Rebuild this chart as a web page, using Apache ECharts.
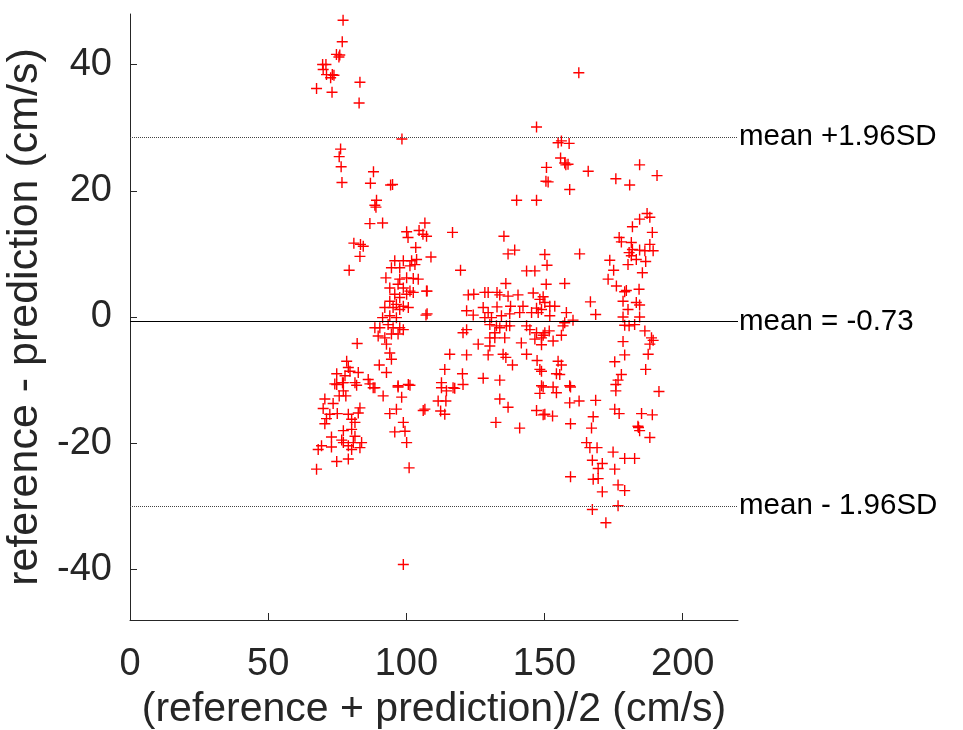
<!DOCTYPE html>
<html>
<head>
<meta charset="utf-8">
<script src="https://cdn.jsdelivr.net/npm/echarts@6/dist/echarts.min.js"></script>
<style>
html, body { margin: 0; padding: 0; background: #fff; }
#main { width: 963px; height: 730px; }
</style>
</head>
<body>
<div id="main"></div>
<script>
// Bland-Altman: [mean of the two, difference]
var lowGroup = [
	[77.1,47.0],[76.8,43.6],[74.7,41.6],[75.9,41.5],[75.6,41.2],[69.7,40.0],[70.9,40.0],[69.9,39.2],
	[71.1,38.4],[73.2,38.4],[73.8,38.3],[72.6,37.9],[83.2,37.2],[67.5,36.2],[73.1,35.6],[82.9,33.9],
	[98.4,28.2],[76.2,26.6],[75.7,25.4],[76.4,23.8],[88.1,23.0],[76.7,21.3],[87.0,21.2],[94.3,20.9],
	[95.0,21.0],[89.2,18.5],[88.6,17.7],[89.0,17.4],[86.8,14.8],[91.4,14.9],[81.0,11.7],[83.4,11.5],
	[84.4,11.2],[83.2,9.6],[79.3,7.4],[82.2,-4.2],
	[78.4,-7.0],[79.0,-8.0],[79.6,-8.6],[74.8,-9.0],[77.8,-9.3],[82.6,-8.8],[90.2,-7.6],[92.8,-8.8],
	[74.1,-10.6],[77.2,-10.4],[81.4,-10.4],[86.2,-9.9],[86.8,-10.6],[88.6,-11.2],[97.0,-10.9],[100.7,-10.7],
	[74.8,-10.7],[76.9,-10.4],[82.0,-10.8],[88.0,-11.2],[97.0,-11.1],[101.3,-10.8],[91.6,-12.5],[98.3,-12.7],
	[77.2,-11.7],[78.1,-12.5],[75.7,-12.5],[70.5,-13.0],[73.5,-13.7],[69.9,-14.5],[83.2,-14.4],[82.6,-15.2],
	[75.0,-15.3],[72.3,-15.4],[79.0,-15.4],[80.2,-16.2],[71.1,-16.1],[70.5,-16.9],[81.4,-16.7],[94.0,-15.3],
	[96.4,-14.6],[106.1,-14.8],[98.9,-16.7],[77.2,-18.0],[80.2,-17.8],[95.8,-18.2],[99.5,-18.1],[72.9,-19.0],
	[76.6,-19.5],[81.4,-18.9],[80.8,-19.9],[83.8,-19.9],[100.1,-19.9],[69.3,-20.4],[68.1,-21.0],[72.9,-20.6],
	[79.0,-20.4],[77.2,-19.9],[80.2,-21.0],[83.2,-20.7],[74.8,-22.9],[79.0,-22.5],[67.5,-24.1],[101.0,-23.9],
	[98.9,-39.2]
];

var clusterGroup = [
	[106.7,14.9],[100.1,13.5],[100.6,12.6],[104.6,13.7],[106.0,13.1],[107.3,12.8],[103.4,11.0],
	[95.8,8.9],[98.9,8.9],[101.9,8.9],[103.7,9.1],[94.6,7.8],[97.6,7.8],[101.3,8.1],[103.1,8.3],
	[92.6,6.2],[97.6,6.0],[100.1,6.2],[102.5,6.1],[104.3,6.0],[94.0,4.6],[97.0,5.2],[98.9,4.6],
	[101.3,4.1],[95.8,3.6],[97.6,3.1],[100.1,3.6],[102.5,3.9],[94.0,2.5],[96.4,2.0],[98.9,1.7],
	[92.2,1.5],[95.2,1.5],[97.6,1.2],[100.7,1.5],[91.4,-0.1],[94.0,0.2],[96.4,-0.1],[90.4,-1.7],
	[93.4,-1.2],[95.2,-1.7],[97.6,-1.7],[98.9,-2.0],[88.6,-1.7],[89.8,-3.0],[92.2,-3.3],[94.6,-2.7],
	[97.0,-2.7],[92.8,-4.3],[94.0,-5.7],[94.6,-6.7],[107.3,4.1],[107.1,0.3]
];

var midGroup = [
	[147.1,30.1],[150.7,23.7],[150.5,21.5],[139.9,18.5],[147.1,18.5],[162.4,38.7],[154.9,27.6],[156.1,27.9],
	[158.9,27.5],[155.8,25.2],[157.3,24.4],[158.5,24.2],[157.7,24.1],[151.3,21.4],[165.8,23.1],[159.1,20.2],
	[116.7,13.4],[135.3,12.8],[136.8,10.0],[139.2,10.6],[150.1,9.9],[108.9,9.5],[119.6,7.4],[143.5,7.3],
	[146.5,7.3],[136.0,5.3],[150.6,5.2],[107.5,4.1],[122.4,3.5],[124.4,3.6],[128.4,3.9],[129.6,3.9],
	[132.8,3.9],[133.8,3.5],[136.8,3.3],[140.4,3.5],[145.9,3.8],[148.3,2.8],[150.1,2.3],[151.9,1.7],
	[127.8,1.5],[132.8,1.6],[137.7,1.7],[142.2,1.7],[147.1,1.4],[121.8,1.0],[124.2,0.3],[129.6,0.7],
	[128.4,-0.1],[130.8,-0.1],[134.4,0.2],[137.4,0.5],[141.0,0.7],[145.3,0.7],[147.7,0.7],[107.5,0.5],
	[121.8,-2.0],[120.5,-2.5],[130.2,-1.2],[132.6,-1.4],[133.8,-1.7],[132.0,-2.5],[136.2,-1.4],[137.4,-1.4],
	[143.5,-1.4],[144.7,-2.0],[147.1,-2.5],[150.1,-2.5],[130.2,-3.3],[132.0,-3.3],[135.6,-3.3],[126.0,-4.3],
	[130.2,-4.6],[141.6,-4.1],[146.5,-3.5],[148.9,-3.3],[115.7,-5.9],[121.8,-6.0],[129.6,-6.0],[135.0,-5.9],
	[136.0,-6.4],[143.5,-5.9],[147.3,-6.9],[138.4,-7.6],[148.3,-8.3],[113.9,-8.3],[120.3,-9.0],[127.8,-9.7],
	[133.8,-10.0],[112.7,-10.4],[116.9,-11.2],[120.5,-10.7],[148.9,-10.9],[112.7,-11.2],[114.5,-11.7],[117.5,-11.3],
	[106.7,-14.6],[111.5,-13.3],[114.3,-13.3],[112.4,-14.9],[113.9,-15.4],[133.8,-13.0],[136.8,-14.3],[132.4,-16.7],
	[141.0,-17.6],[148.3,-12.1],[147.1,-14.8],[150.1,-15.4]
];

var highGroup = [
	[175.8,21.9],[180.8,20.9],[184.4,24.1],[190.7,22.4],
	[187.1,16.4],[184.4,15.5],[188.1,15.8],[181.8,14.3],[189.0,13.4],[177.0,12.6],[177.8,11.9],[181.4,11.8],
	[181.8,10.7],[180.6,10.2],[181.4,9.7],[184.4,10.6],[186.3,10.5],[188.1,11.5],[189.3,10.5],[183.2,9.1],
	[186.6,8.8],[180.2,8.3],[173.6,9.0],[175.0,7.4],[185.4,7.0],[173.0,6.0],[176.0,4.9],[179.6,4.2],
	[179.0,4.0],[184.2,4.4],[178.4,2.5],[183.2,2.3],[184.4,1.9],[180.2,1.2],[178.4,0.0],[184.4,0.0],
	[179.0,-1.3],[180.6,-1.4],[182.6,-1.2],[186.3,-2.2],[188.7,-3.3],[189.3,-3.7],[188.1,-4.3],[178.4,-3.9],
	[179.0,-6.0],[187.5,-5.9],[175.4,-7.1],[186.6,-8.3],[177.8,-9.1],[176.6,-10.0],[175.8,-10.7],
	[150.9,8.2],[157.3,5.3],[149.5,3.2],[153.7,1.7],[148.9,1.2],[151.9,0.2],[157.9,0.7],[157.3,-0.9],
	[156.7,-1.4],[160.3,-0.5],[162.7,10.0],[166.6,2.4],[168.5,0.4],[151.7,-2.2],[149.5,-2.9],[153.1,-3.8],
	[156.1,-2.9],[148.9,-4.4],[154.9,-7.0],[156.1,-7.6],[154.3,-9.0],[155.5,-9.1],[149.5,-11.1],[153.1,-11.1],
	[159.1,-10.9],[148.9,-8.6],[154.3,-12.0],[159.4,-11.1],[159.1,-13.6],[162.5,-13.3],[168.5,-13.2],[175.8,-11.7],
	[191.4,-11.8],[149.5,-15.5],[152.9,-15.7],[159.4,-16.9],[167.6,-15.8],[167.0,-17.6],[175.4,-14.6],[177.0,-15.3],
	[185.1,-15.3],[189.0,-15.5],[183.8,-17.3],[184.4,-18.0],[184.0,-17.5],[188.1,-19.1],[165.2,-19.9],[166.4,-20.7],
	[169.0,-20.7],[174.8,-21.4],[179.0,-22.4],[182.6,-22.4],[167.3,-22.7],[170.9,-23.2],[169.4,-24.0],[175.4,-24.1],
	[159.4,-25.3],[167.6,-25.7],[169.4,-25.6],[176.6,-26.6],[179.0,-27.5],[170.9,-27.7],[167.3,-30.5],[176.6,-29.9],
	[172.2,-32.6]
];

var meanDiff = -0.73;
var upperLimit = 28.5;
var lowerLimit = -29.96;
var xTicks = [0, 50, 100, 150, 200];
var yTicks = [-40, -20, 0, 20, 40];

var font = 'Liberation Sans, Arial, Helvetica, sans-serif';
var axisColor = '#262626';
var plusPath = 'path://M9.6,0H12.4V22H9.6Z M0,9.6H22V12.4H0Z';

var allPoints = lowGroup.concat(clusterGroup, midGroup, highGroup);

var chart = echarts.init(document.getElementById('main'));
chart.setOption({
	animation: false,
	backgroundColor: '#fff',
	grid: { left: 130, top: 14, width: 608, height: 606, containLabel: false, outerBoundsMode: 'none' },
	xAxis: {
		type: 'value',
		min: 0, max: 220,
		name: '(reference + prediction)/2 (cm/s)',
		nameLocation: 'middle',
		nameGap: 64,
		nameTextStyle: { fontSize: 41, color: axisColor, fontFamily: font },
		axisLine: { onZero: false, lineStyle: { color: axisColor, width: 1 } },
		axisTick: { inside: true, length: 7, lineStyle: { color: axisColor }, customValues: xTicks },
		axisLabel: { fontSize: 38, color: axisColor, fontFamily: font, margin: 26, customValues: xTicks },
		splitLine: { show: false }
	},
	yAxis: {
		type: 'value',
		min: -48, max: 48,
		name: 'reference - prediction (cm/s)',
		nameLocation: 'middle',
		nameRotate: 90,
		nameGap: 72,
		nameTextStyle: { fontSize: 43, color: axisColor, fontFamily: font },
		axisLine: { show: true, onZero: false, lineStyle: { color: axisColor, width: 1 } },
		axisTick: { show: true, inside: true, length: 7, lineStyle: { color: axisColor }, customValues: yTicks },
		axisLabel: { fontSize: 38, color: axisColor, fontFamily: font, margin: 18, customValues: yTicks },
		splitLine: { show: false }
	},
	series: [{
		type: 'scatter',
		data: allPoints,
		symbol: plusPath,
		symbolSize: 11,
		itemStyle: { color: '#ff0000', opacity: 1 },
		markLine: {
			silent: true,
			symbol: ['none', 'none'],
			label: { show: true, position: 'end', distance: 1, fontSize: 29.5, color: '#000', fontFamily: font },
			data: [
				{ yAxis: upperLimit, lineStyle: { type: 'dotted', color: '#444', width: 1 }, label: { formatter: 'mean +1.96SD' } },
				{ yAxis: meanDiff, lineStyle: { type: 'solid', color: '#000', width: 1 }, label: { formatter: 'mean = -0.73' } },
				{ yAxis: lowerLimit, lineStyle: { type: 'dotted', color: '#444', width: 1 }, label: { formatter: 'mean - 1.96SD' } }
			]
		}
	}]
});
</script>
</body>
</html>
